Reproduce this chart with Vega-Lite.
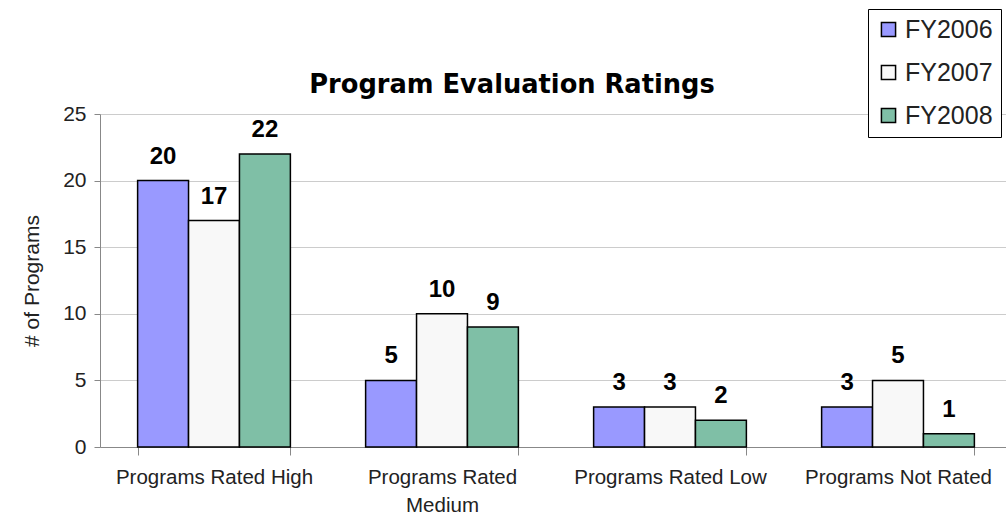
{
  "$schema": "https://vega.github.io/schema/vega-lite/v6.json",
  "autosize": {"type": "none"},
  "padding": {"left": 100, "top": 114, "right": 0, "bottom": 73},
  "width": 912,
  "height": 333,
  "background": "white",
  "title": {
    "text": "Program Evaluation Ratings",
    "anchor": "middle",
    "frame": "group",
    "dx": -44,
    "dy": 110,
    "offset": 20,
    "fontSize": 25.7,
    "font": "DejaVu Sans",
    "fontWeight": "bold",
    "color": "black"
  },
  "data": {
    "values": [
      {"category": "Programs Rated High", "year": "FY2006", "value": 20},
      {"category": "Programs Rated High", "year": "FY2007", "value": 17},
      {"category": "Programs Rated High", "year": "FY2008", "value": 22},
      {"category": "Programs Rated Medium", "year": "FY2006", "value": 5},
      {"category": "Programs Rated Medium", "year": "FY2007", "value": 10},
      {"category": "Programs Rated Medium", "year": "FY2008", "value": 9},
      {"category": "Programs Rated Low", "year": "FY2006", "value": 3},
      {"category": "Programs Rated Low", "year": "FY2007", "value": 3},
      {"category": "Programs Rated Low", "year": "FY2008", "value": 2},
      {"category": "Programs Not Rated", "year": "FY2006", "value": 3},
      {"category": "Programs Not Rated", "year": "FY2007", "value": 5},
      {"category": "Programs Not Rated", "year": "FY2008", "value": 1}
    ]
  },
  "encoding": {
    "x": {
      "field": "category",
      "type": "nominal",
      "sort": null,
      "scale": {"paddingInner": 0.33, "paddingOuter": 0.165},
      "axis": {
        "title": null,
        "labelAngle": 0,
        "labelFontSize": 20.5,
        "labelFont": "Liberation Sans",
        "labelColor": "#222",
        "labelPadding": 12,
        "labelLineHeight": 28,
        "labelLimit": 400,
        "tickBand": "extent",
        "tickSize": 8,
        "tickColor": "#888",
        "domainColor": "#888",
        "labelExpr": "datum.value == 'Programs Rated Medium' ? ['Programs Rated', 'Medium'] : datum.value"
      }
    },
    "xOffset": {"field": "year", "type": "nominal", "scale": {"paddingInner": 0, "paddingOuter": 0}},
    "y": {
      "field": "value",
      "type": "quantitative",
      "scale": {"domain": [0, 25]},
      "axis": {
        "title": "# of Programs",
        "titleFontSize": 21,
        "titleFont": "Liberation Sans",
        "titleFontWeight": "normal",
        "titleColor": "#222",
        "titlePadding": 20,
        "values": [0, 5, 10, 15, 20, 25],
        "labelFontSize": 21,
        "labelFont": "Liberation Sans",
        "labelColor": "#222",
        "labelPadding": 8,
        "tickSize": 6,
        "tickColor": "#888",
        "domainColor": "#888",
        "gridColor": "#ccc"
      }
    }
  },
  "layer": [
    {
      "mark": {"type": "bar", "stroke": "black", "strokeWidth": 1.5},
      "encoding": {
        "color": {
          "field": "year",
          "type": "nominal",
          "scale": {"domain": ["FY2006", "FY2007", "FY2008"], "range": ["#9999FF", "#F8F8F8", "#7FBFA6"]},
          "legend": {
            "title": null,
            "orient": "none",
            "legendX": 768,
            "legendY": -105,
            "symbolType": "square",
            "symbolSize": 200,
            "symbolStrokeColor": "black",
            "symbolStrokeWidth": 1.5,
            "symbolOpacity": 1,
            "labelFontSize": 25,
            "labelFont": "Liberation Sans",
            "labelColor": "#222",
            "rowPadding": 17,
            "strokeColor": "black",
            "fillColor": "white",
            "padding": 8
          }
        }
      }
    },
    {
      "mark": {"type": "text", "baseline": "bottom", "dy": -12, "fontSize": 24, "font": "Liberation Sans", "fontWeight": "bold", "color": "black"},
      "encoding": {
        "text": {"field": "value", "type": "quantitative"}
      }
    }
  ],
  "config": {
    "view": {"stroke": null}
  }
}
